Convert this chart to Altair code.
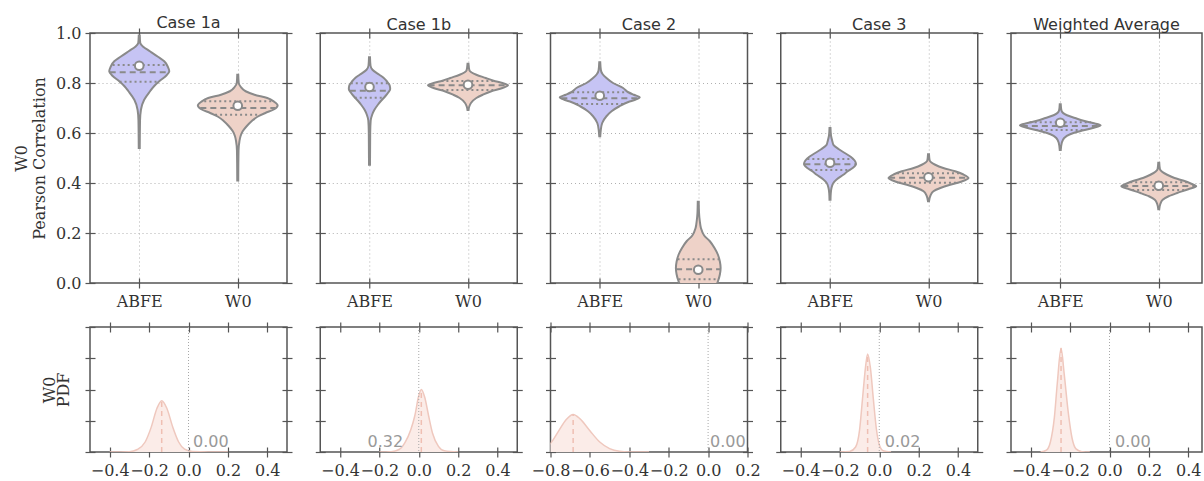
import altair as alt
import pandas as pd

CASES = ["Case 1a", "Case 1b", "Case 2", "Case 3", "Weighted Average"]
GROUPS = ["ABFE", "W0"]
GROUP_POS = [0, 1]
GROUP_FILL = ["#c6c4f4", "#eed2c8"]

# violin outlines: (correlation value, half width in category units), top to bottom
OUT_1A_ABFE = [(0.99, 0.005), (0.96, 0.01), (0.945, 0.04), (0.927, 0.108), (0.905, 0.19), (0.887, 0.254),
               (0.865, 0.29), (0.847, 0.305), (0.828, 0.27), (0.807, 0.203), (0.787, 0.15), (0.767, 0.11),
               (0.733, 0.05), (0.693, 0.017), (0.65, 0.008), (0.54, 0.005)]
OUT_1A_W0 = [(0.833, 0.005), (0.8, 0.01), (0.785, 0.03), (0.767, 0.08), (0.753, 0.17), (0.74, 0.3),
             (0.725, 0.37), (0.71, 0.405), (0.695, 0.37), (0.68, 0.28), (0.665, 0.2), (0.647, 0.14),
             (0.627, 0.09), (0.607, 0.05), (0.587, 0.028), (0.567, 0.017), (0.53, 0.008), (0.41, 0.005)]
OUT_1B_ABFE = [(0.903, 0.005), (0.87, 0.01), (0.853, 0.03), (0.833, 0.1), (0.82, 0.145), (0.807, 0.176),
               (0.79, 0.205), (0.776, 0.21), (0.762, 0.19), (0.747, 0.16), (0.73, 0.12), (0.713, 0.085),
               (0.693, 0.05), (0.673, 0.027), (0.65, 0.012), (0.6, 0.007), (0.473, 0.005)]
OUT_1B_W0 = [(0.877, 0.005), (0.85, 0.015), (0.833, 0.085), (0.82, 0.18), (0.809, 0.26), (0.8, 0.35),
             (0.791, 0.406), (0.78, 0.35), (0.767, 0.237), (0.753, 0.15), (0.74, 0.085), (0.72, 0.03),
             (0.705, 0.012), (0.692, 0.005)]
OUT_2_ABFE = [(0.883, 0.005), (0.85, 0.012), (0.835, 0.03), (0.82, 0.068), (0.8, 0.135), (0.78, 0.237),
              (0.763, 0.29), (0.753, 0.345), (0.743, 0.406), (0.733, 0.36), (0.724, 0.29), (0.707, 0.2),
              (0.687, 0.12), (0.667, 0.068), (0.64, 0.025), (0.61, 0.01), (0.587, 0.005)]
OUT_2_W0 = [(0.325, 0.005), (0.28, 0.008), (0.25, 0.015), (0.22, 0.027), (0.19, 0.06), (0.167, 0.118),
            (0.14, 0.165), (0.113, 0.2), (0.085, 0.22), (0.06, 0.227), (0.035, 0.22), (0.007, 0.2),
            (-0.02, 0.17), (-0.05, 0.12)]
OUT_3_ABFE = [(0.62, 0.005), (0.59, 0.01), (0.565, 0.025), (0.553, 0.034), (0.535, 0.09), (0.52, 0.15),
              (0.505, 0.21), (0.49, 0.25), (0.476, 0.264), (0.46, 0.23), (0.447, 0.18), (0.433, 0.135),
              (0.415, 0.07), (0.4, 0.034), (0.38, 0.015), (0.36, 0.008), (0.333, 0.005)]
OUT_3_W0 = [(0.515, 0.005), (0.49, 0.012), (0.473, 0.068), (0.46, 0.15), (0.447, 0.27), (0.435, 0.35),
            (0.42, 0.406), (0.405, 0.33), (0.393, 0.22), (0.38, 0.12), (0.367, 0.05), (0.35, 0.02),
            (0.327, 0.005)]
OUT_WA_ABFE = [(0.715, 0.005), (0.69, 0.012), (0.671, 0.068), (0.66, 0.15), (0.649, 0.237), (0.64, 0.33),
               (0.631, 0.41), (0.62, 0.33), (0.607, 0.2), (0.595, 0.1), (0.58, 0.04), (0.56, 0.015),
               (0.532, 0.005)]
OUT_WA_W0 = [(0.481, 0.005), (0.455, 0.012), (0.433, 0.085), (0.42, 0.16), (0.409, 0.254), (0.397, 0.33),
             (0.387, 0.38), (0.375, 0.3), (0.36, 0.186), (0.347, 0.1), (0.333, 0.04), (0.315, 0.015),
             (0.295, 0.005)]

# inner quartile lines: (value, half width) for upper quartile, median, lower quartile
Q_1A_ABFE = [(0.872, 0.27), (0.843, 0.30), (0.805, 0.2)]
Q_1A_W0 = [(0.727, 0.34), (0.70, 0.38), (0.673, 0.23)]
Q_1B_ABFE = [(0.799, 0.19), (0.769, 0.2), (0.741, 0.15)]
Q_1B_W0 = [(0.808, 0.27), (0.791, 0.4), (0.772, 0.27)]
Q_2_ABFE = [(0.763, 0.28), (0.739, 0.39), (0.716, 0.24)]
Q_2_W0 = [(0.095, 0.21), (0.055, 0.225), (0.015, 0.2)]
Q_3_ABFE = [(0.496, 0.23), (0.475, 0.26), (0.452, 0.2)]
Q_3_W0 = [(0.439, 0.32), (0.421, 0.4), (0.401, 0.3)]
Q_WA_ABFE = [(0.643, 0.31), (0.628, 0.39), (0.612, 0.25)]
Q_WA_W0 = [(0.403, 0.29), (0.388, 0.37), (0.372, 0.27)]

MEAN_ABFE = [0.869, 0.784, 0.749, 0.481, 0.641]
MEAN_W0 = [0.709, 0.793, 0.053, 0.423, 0.389]

# lower row: PDF of the difference
PDF_1A_X = [-0.4, -0.3, -0.26, -0.22, -0.19, -0.16, -0.136, -0.11, -0.08, -0.05, -0.02, 0.02, 0.1, 0.2]
PDF_1A_Y = [0.0, 0.05, 0.4, 1.6, 3.9, 7.0, 8.2, 7.0, 4.0, 1.6, 0.45, 0.07, 0.0, 0.0]
PDF_1B_X = [-0.2, -0.14, -0.1, -0.07, -0.04, -0.02, 0.0, 0.013, 0.03, 0.05, 0.07, 0.1, 0.13, 0.2]
PDF_1B_Y = [0.0, 0.05, 0.4, 1.5, 3.6, 5.8, 9.0, 10.0, 8.8, 5.8, 3.0, 0.9, 0.2, 0.0]
PDF_2_X = [-0.85, -0.8, -0.76, -0.72, -0.685, -0.65, -0.6, -0.55, -0.5, -0.45, -0.4, -0.3]
PDF_2_Y = [0.6, 1.4, 3.3, 5.2, 6.0, 5.3, 3.4, 1.6, 0.55, 0.12, 0.02, 0.0]
PDF_3_X = [-0.2, -0.15, -0.12, -0.1, -0.085, -0.07, -0.059, -0.045, -0.03, -0.015, 0.0, 0.02, 0.06]
PDF_3_Y = [0.0, 0.1, 0.8, 3.5, 8.5, 13.5, 15.7, 13.5, 8.5, 3.8, 1.2, 0.2, 0.0]
PDF_WA_X = [-0.35, -0.32, -0.3, -0.28, -0.265, -0.246, -0.23, -0.21, -0.19, -0.17, -0.14, -0.1]
PDF_WA_Y = [0.0, 0.3, 1.6, 5.5, 11.0, 16.6, 12.5, 6.5, 2.2, 0.5, 0.05, 0.0]

PEAK_X = [-0.136, 0.013, -0.685, -0.059, -0.246]
PEAK_Y = [8.2, 10.0, 6.0, 15.7, 16.6]
PROB_TEXT = ["0.00", "0.32", "0.00", "0.02", "0.00"]
TEXT_X = [0.023, -0.079, 0.01, 0.028, 0.028]
TEXT_ALIGN = ["left", "right", "left", "left", "left"]
TEXT_Y = 0.8

# axis ranges (the last column is cut by the right edge of the figure)
PANEL_W = [197, 197, 197, 197, 191]
TOP_X_DOMAINS = [[-0.5, 1.5], [-0.5, 1.5], [-0.5, 1.5], [-0.5, 1.5], [-0.5, 1.439]]
BOT_X_DOMAINS = [[-0.5, 0.5], [-0.5, 0.5], [-0.8, 0.2], [-0.5, 0.5], [-0.5, 0.4695]]
X_TICKS = [[-0.4, -0.2, 0.0, 0.2, 0.4], [-0.4, -0.2, 0.0, 0.2, 0.4], [-0.8, -0.6, -0.4, -0.2, 0.0, 0.2],
           [-0.4, -0.2, 0.0, 0.2, 0.4], [-0.4, -0.2, 0.0, 0.2, 0.4]]
Y_TICKS_TOP = [0.0, 0.2, 0.4, 0.6, 0.8, 1.0]
Y_GRID_TOP = [0.2, 0.4, 0.6, 0.8]
Y_TICKS_PDF = [0, 5, 10, 15, 20]

OUTLINES = [(OUT_1A_ABFE, OUT_1A_W0), (OUT_1B_ABFE, OUT_1B_W0), (OUT_2_ABFE, OUT_2_W0),
            (OUT_3_ABFE, OUT_3_W0), (OUT_WA_ABFE, OUT_WA_W0)]
QUARTS = [(Q_1A_ABFE, Q_1A_W0), (Q_1B_ABFE, Q_1B_W0), (Q_2_ABFE, Q_2_W0),
          (Q_3_ABFE, Q_3_W0), (Q_WA_ABFE, Q_WA_W0)]
PDF_X = [PDF_1A_X, PDF_1B_X, PDF_2_X, PDF_3_X, PDF_WA_X]
PDF_Y = [PDF_1A_Y, PDF_1B_Y, PDF_2_Y, PDF_3_Y, PDF_WA_Y]

EDGE = "#8a8a8a"
TICK = "#555555"
GRID = "#b0b0b0"
PDF_FILL = "#fbece8"
PDF_EDGE = "#efc8be"
PDF_DASH = "#efbfb3"
H_TOP, H_BOT = 250, 125


def ax(orient, values, labels=False, **kw):
    return alt.Axis(orient=orient, values=values, labels=labels, offset=-5, tickSize=10,
                    domain=False, grid=False, labelFlush=False, labelOverlap=False,
                    minExtent=0, **kw)


def grid_ax(orient, values):
    return alt.Axis(orient=orient, values=values, labels=False, ticks=False, domain=False,
                    grid=True, gridColor=GRID, gridDash=[1, 3], gridWidth=1, title=None, minExtent=0)


def axis_layers(i, xs, ys, xdom, ydom, bottom_ax, left_ax, top_ax, right_ax):
    dummy = pd.DataFrame({"x": xdom, "y": ydom})
    l1 = alt.Chart(dummy).mark_point(opacity=0, size=1).encode(
        x=alt.X("x:Q", scale=xs, axis=bottom_ax), y=alt.Y("y:Q", scale=ys, axis=left_ax))
    if i == 4:
        l2 = alt.Chart(dummy).mark_point(opacity=0, size=1).encode(
            x=alt.X("x:Q", scale=xs, axis=top_ax), y=alt.Y("y:Q", scale=ys, axis=None))
    else:
        l2 = alt.Chart(dummy).mark_point(opacity=0, size=1).encode(
            x=alt.X("x:Q", scale=xs, axis=top_ax), y=alt.Y("y:Q", scale=ys, axis=right_ax))
    return [l1, l2]


def top_panel(i):
    xs = alt.Scale(domain=TOP_X_DOMAINS[i], nice=False, zero=False)
    ys = alt.Scale(domain=[0.0, 1.0], nice=False, zero=False)
    vrows, qrows, mrows = [], [], []
    means = [MEAN_ABFE[i], MEAN_W0[i]]
    for k, g in enumerate(GROUPS):
        pos = GROUP_POS[k]
        for v, hw in OUTLINES[i][k]:
            vrows.append({"group": g, "v": v, "lo": pos - hw, "hi": pos + hw})
        for j, (q, hw) in enumerate(QUARTS[i][k]):
            qrows.append({"group": g, "kind": "median" if j == 1 else "quartile",
                          "v": q, "lo": pos - hw, "hi": pos + hw})
        mrows.append({"group": g, "pos": pos, "mean": means[k]})
    vdf, qdf, mdf = pd.DataFrame(vrows), pd.DataFrame(qrows), pd.DataFrame(mrows)

    dummy = pd.DataFrame({"x": TOP_X_DOMAINS[i], "y": [0.0, 1.0]})
    grid = alt.Chart(dummy).mark_point(opacity=0, size=1).encode(
        x=alt.X("x:Q", scale=xs, axis=grid_ax("bottom", [0, 1])),
        y=alt.Y("y:Q", scale=ys, axis=grid_ax("left", Y_GRID_TOP)))
    violins = alt.Chart(vdf).mark_area(orient="horizontal", interpolate="monotone", stroke=EDGE,
                                       strokeWidth=2, fillOpacity=1, clip=True).encode(
        y=alt.Y("v:Q", scale=ys, axis=None),
        x=alt.X("lo:Q", scale=xs, axis=None),
        x2="hi:Q",
        fill=alt.Fill("group:N", scale=alt.Scale(domain=GROUPS, range=GROUP_FILL), legend=None))
    med = alt.Chart(qdf).transform_filter("datum.kind == 'median'").mark_rule(
        color=EDGE, strokeWidth=2, strokeDash=[6, 4]).encode(
        y=alt.Y("v:Q", scale=ys, axis=None), x=alt.X("lo:Q", scale=xs, axis=None), x2="hi:Q")
    quart = alt.Chart(qdf).transform_filter("datum.kind == 'quartile'").mark_rule(
        color=EDGE, strokeWidth=2, strokeDash=[2, 3]).encode(
        y=alt.Y("v:Q", scale=ys, axis=None), x=alt.X("lo:Q", scale=xs, axis=None), x2="hi:Q")
    pts = alt.Chart(mdf).mark_circle(size=75, fill="white", stroke=EDGE, strokeWidth=2, opacity=1).encode(
        x=alt.X("pos:Q", scale=xs, axis=None), y=alt.Y("mean:Q", scale=ys, axis=None))

    lab_expr = "datum.value == 0 ? 'ABFE' : 'W0'"
    bottom_ax = ax("bottom", [0, 1], labels=True, labelExpr=lab_expr, labelPadding=5, title=None)
    if i == 0:
        left_ax = ax("left", Y_TICKS_TOP, labels=True, format=".1f", labelPadding=4,
                     title=["W0", "Pearson Correlation"], titlePadding=8, titleLineHeight=18)
    else:
        left_ax = ax("left", Y_TICKS_TOP, title=None)
    axes = axis_layers(i, xs, ys, TOP_X_DOMAINS[i], [0.0, 1.0], bottom_ax, left_ax,
                       ax("top", [0, 1], title=None), ax("right", Y_TICKS_TOP, title=None))
    title = alt.TitleParams(text=CASES[i], frame="group", offset=-19, baseline="alphabetic",
                            anchor="middle", font="DejaVu Sans", fontSize=16, fontWeight="normal",
                            color="#333333")
    return alt.layer(grid, violins, med, quart, pts, *axes).resolve_axis(
        x="independent", y="independent").properties(width=PANEL_W[i], height=H_TOP, title=title)


def bottom_panel(i):
    xs = alt.Scale(domain=BOT_X_DOMAINS[i], nice=False, zero=False)
    ys = alt.Scale(domain=[0, 20], nice=False, zero=False)
    pdf = pd.DataFrame({"x": PDF_X[i], "y": PDF_Y[i]})
    area = alt.Chart(pdf).mark_area(interpolate="monotone", color=PDF_FILL, opacity=1, clip=True).encode(
        x=alt.X("x:Q", scale=xs, axis=None), y=alt.Y("y:Q", scale=ys, axis=None, stack=None))
    line = alt.Chart(pdf).mark_line(interpolate="monotone", color=PDF_EDGE, strokeWidth=1.5, clip=True).encode(
        x=alt.X("x:Q", scale=xs, axis=None), y=alt.Y("y:Q", scale=ys, axis=None))
    peak = alt.Chart(pd.DataFrame({"x": [PEAK_X[i]], "y0": [0.0], "y1": [PEAK_Y[i]]})).mark_rule(
        color=PDF_DASH, strokeDash=[5, 4], strokeWidth=1.5).encode(
        x=alt.X("x:Q", scale=xs, axis=None), y=alt.Y("y0:Q", scale=ys, axis=None), y2="y1:Q")
    zero = alt.Chart(pd.DataFrame({"x": [0.0]})).mark_rule(
        color="#a8a8a8", strokeDash=[1, 2], strokeWidth=1).encode(x=alt.X("x:Q", scale=xs, axis=None))
    txt = alt.Chart(pd.DataFrame({"x": [TEXT_X[i]], "y": [TEXT_Y], "t": [PROB_TEXT[i]]})).mark_text(
        align=TEXT_ALIGN[i], baseline="alphabetic", font="DejaVu Sans", fontSize=16, color="#999999").encode(
        x=alt.X("x:Q", scale=xs, axis=None), y=alt.Y("y:Q", scale=ys, axis=None), text="t:N")

    bottom_ax = ax("bottom", X_TICKS[i], labels=True, format=".1f", labelPadding=5, title=None)
    if i == 0:
        left_ax = ax("left", Y_TICKS_PDF, title=["W0", "PDF"], titlePadding=13, titleLineHeight=14)
    else:
        left_ax = ax("left", Y_TICKS_PDF, title=None)
    axes = axis_layers(i, xs, ys, BOT_X_DOMAINS[i], [0, 20], bottom_ax, left_ax,
                       ax("top", X_TICKS[i], title=None), ax("right", Y_TICKS_PDF, title=None))
    return alt.layer(area, line, peak, zero, txt, *axes).resolve_axis(
        x="independent", y="independent").properties(width=PANEL_W[i], height=H_BOT)


panels = [top_panel(i) for i in range(5)] + [bottom_panel(i) for i in range(5)]

chart = alt.concat(*panels, columns=5, spacing={"row": 44, "column": 33.25}, bounds="flush",
                   align="each").properties(
    padding={"left": 12, "top": 14, "right": 0, "bottom": 0},
    background="white",
).configure_view(stroke=TICK, strokeWidth=1.5).configure_axis(
    labelFont="DejaVu Serif", labelFontSize=16, labelColor="#333333",
    titleFont="DejaVu Serif", titleFontSize=16, titleFontWeight="normal", titleColor="#333333",
    tickColor=TICK, tickWidth=1.2,
)

chart.save("out.html", embed_options={"renderer": "svg", "actions": False})
